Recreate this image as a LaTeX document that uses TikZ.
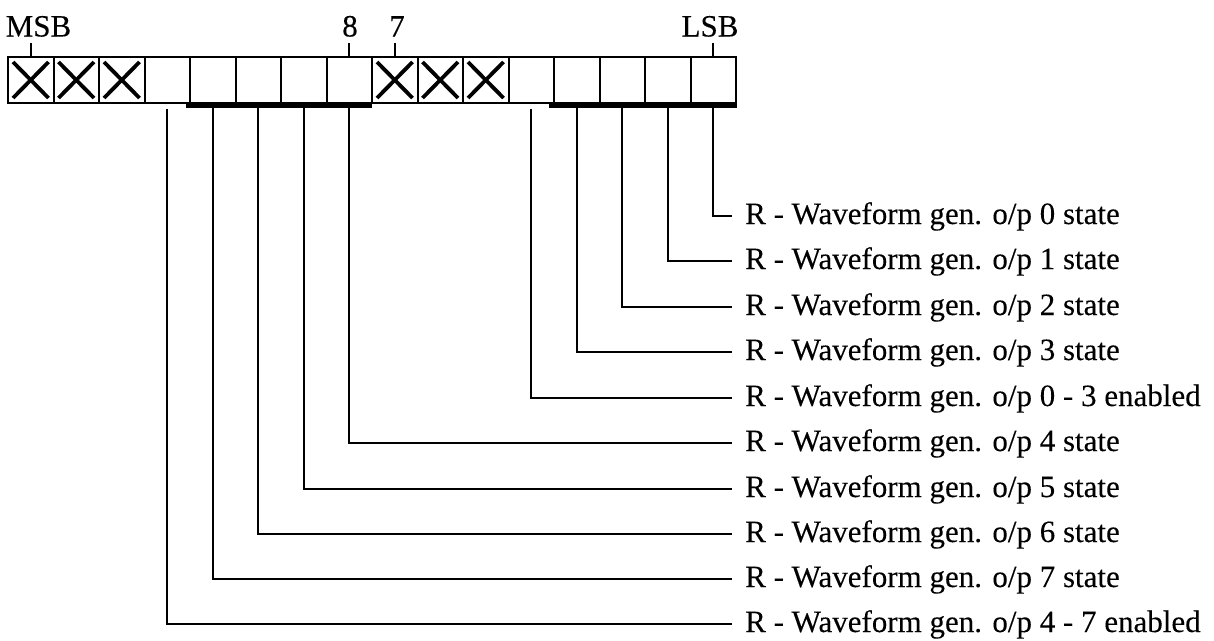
\documentclass[tikz,border=0pt]{standalone}
\usepackage{fontspec}
\setmainfont{Liberation Serif}[FakeBold=0.15]
\tikzset{
  cell/.style={draw, line width=2pt, minimum width=45.5pt, minimum height=46pt, inner sep=0pt, outer sep=0pt},
  xmark/.style={line width=3.8pt},
  barline/.style={line width=4.5pt},
  conn/.style={line width=2.2pt},
  lbl/.style={anchor=west, inner xsep=13pt, inner ysep=0pt, text height=16pt, text depth=0pt,
              font=\fontsize{31}{36}\selectfont},
  toplbl/.style={anchor=base, inner sep=0pt, font=\fontsize{31}{36}\selectfont}
}
\begin{document}
\begin{tikzpicture}[x=1pt,y=-1pt]
\useasboundingbox (0,0) rectangle (1214,640);
% cells
\foreach \i in {0,...,15}{
  \node[cell] (c\i) at ({8+45.5*\i+22.75},80) {};
}
% crosses
\foreach \i in {0,1,2,8,9,10}{
  \draw[xmark] ([shift={(5pt,-5pt)}]c\i.north west) -- ([shift={(-5pt,5pt)}]c\i.south east);
  \draw[xmark] ([shift={(5pt,5pt)}]c\i.south west) -- ([shift={(-5pt,-5pt)}]c\i.north east);
}
% top labels
\node[toplbl] (msb) at (38.5,36.5) {MSB};
\node[toplbl] (b8) at (350,36.5) {8};
\node[toplbl] (b7) at (397,36.5) {7};
\node[toplbl] (lsb) at (710,36.5) {LSB};
\foreach \i in {0,7,8,15}{
  \coordinate (t\i) at ([yshift=14pt]c\i.north);
  \draw[conn] (c\i.north) -- (t\i);
}
% bars
\draw[barline] ([shift={(-4pt,-3pt)}]c4.south west) -- ([shift={(0pt,-3pt)}]c7.south east);
\draw[barline] ([shift={(-5pt,-3pt)}]c12.south west) -- ([shift={(1pt,-3pt)}]c15.south east);
% labels
\node[lbl] (l0) at (732,216) {R - Waveform gen. o/p 0 state};
\node[lbl] (l1) at (732,261) {R - Waveform gen. o/p 1 state};
\node[lbl] (l2) at (732,307) {R - Waveform gen. o/p 2 state};
\node[lbl] (l3) at (732,352) {R - Waveform gen. o/p 3 state};
\node[lbl] (l4) at (732,398) {R - Waveform gen. o/p 0 - 3 enabled};
\node[lbl] (l5) at (732,443) {R - Waveform gen. o/p 4 state};
\node[lbl] (l6) at (732,489) {R - Waveform gen. o/p 5 state};
\node[lbl] (l7) at (732,534) {R - Waveform gen. o/p 6 state};
\node[lbl] (l8) at (732,579) {R - Waveform gen. o/p 7 state};
\node[lbl] (l9) at (732,624) {R - Waveform gen. o/p 4 - 7 enabled};
% connectors
\foreach \c/\l in {15/0,14/1,13/2,12/3,7/5,6/6,5/7,4/8}{
  \draw[conn] ([yshift=-3pt]c\c.south) |- (l\l.west);
}
\foreach \c/\l in {11/4,3/9}{
  \draw[conn] ([yshift=-6pt]c\c.south) |- (l\l.west);
}
\end{tikzpicture}
\end{document}
